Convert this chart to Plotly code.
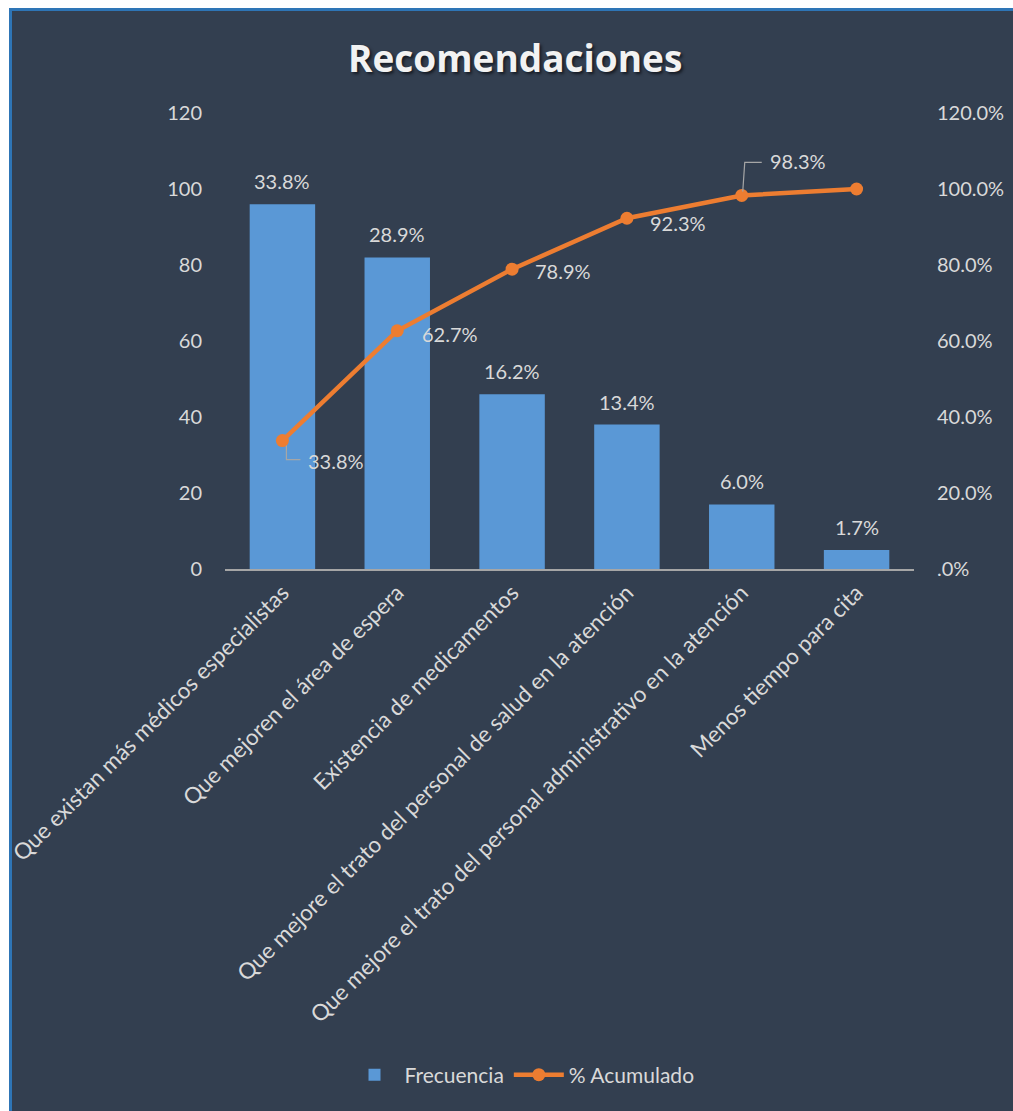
import plotly.graph_objects as go

# Pareto data: recommendations, frequency and cumulative share
categories = [
    "Que existan más médicos especialistas",
    "Que mejoren el área de espera",
    "Existencia de medicamentos",
    "Que mejore el trato del personal de salud en la atención",
    "Que mejore el trato del personal administrativo en la atención",
    "Menos tiempo para cita",
]
frecuencia = [96, 82, 46, 38, 17, 5]
porcentaje = [33.8, 28.9, 16.2, 13.4, 6.0, 1.7]          # share of each bar (%)
acumulado = [33.8, 62.7, 78.9, 92.3, 98.3, 100.0]        # cumulative share (%)

left_ticks = [0, 20, 40, 60, 80, 100, 120]
right_ticks = [0, 20, 40, 60, 80, 100, 120]
right_tick_text = [".0%", "20.0%", "40.0%", "60.0%", "80.0%", "100.0%", "120.0%"]

W, H = 1013, 1111
M_L, M_R, M_T, M_B = 225, 99, 113, 542
PW, PH = W - M_L - M_R, H - M_T - M_B

BG = "#333F50"
BORDER = "#2E75B6"
TXT = "#D9D9D9"
BAR = "#5A98D6"
LINE = "#ED7D31"
FONT = "Lato"


def px(x):
    return (x - M_L) / PW


def py(y):
    return (H - M_B - y) / PH


x_idx = list(range(len(categories)))
cum_frac = [v / 100 for v in acumulado]

fig = go.Figure()
fig.add_trace(go.Bar(
    x=x_idx, y=frecuencia, name="Frecuencia",
    marker=dict(color=BAR, line=dict(width=0)),
    width=0.57, yaxis="y",
))
fig.add_trace(go.Scatter(
    x=x_idx, y=cum_frac, name="% Acumulado", mode="lines+markers",
    line=dict(color=LINE, width=4.5), marker=dict(color=LINE, size=13),
    yaxis="y2", cliponaxis=False,
))

annotations = []
# share labels above each bar
for i, (f, p) in enumerate(zip(frecuencia, porcentaje)):
    annotations.append(dict(
        x=i, y=f, xref="x", yref="y", text=f"{p:.1f}%", showarrow=False,
        yanchor="bottom", yshift=9, font=dict(family=FONT, size=20, color=TXT),
    ))

# cumulative labels beside the line points (pixel offsets from each point)
label_offsets = [(54, -20), (53, -3), (51, -2), (51, -5), (56, 34)]
for i, (dx, dy) in enumerate(label_offsets):
    annotations.append(dict(
        x=i, y=cum_frac[i], xref="x", yref="y2", text=f"{acumulado[i]:.1f}%",
        showarrow=False, xshift=dx, yshift=dy,
        font=dict(family=FONT, size=20, color=TXT),
    ))

# chart title with a soft drop shadow
annotations.append(dict(
    x=px(515), y=py(58), xref="paper", yref="paper", text="<b>Recomendaciones</b>",
    showarrow=False, xanchor="center", yanchor="middle",
    font=dict(family="Open Sans", size=37, color="#F2F2F2",
              shadow="2px 2px 3px #161B24"),
))

shapes = [
    # dark panel with blue top/left border on a white page
    dict(type="rect", xref="paper", yref="paper", x0=px(9), x1=px(W + 5),
         y0=py(H + 5), y1=py(8), fillcolor=BG, line=dict(width=0), layer="below"),
    dict(type="line", xref="paper", yref="paper", x0=px(9), x1=px(W + 5),
         y0=py(9.5), y1=py(9.5), line=dict(color=BORDER, width=3), layer="below"),
    dict(type="line", xref="paper", yref="paper", x0=px(10.5), x1=px(10.5),
         y0=py(8), y1=py(H + 5), line=dict(color=BORDER, width=3), layer="below"),
]
# elbow leader lines for the first and fifth cumulative labels
leaders = [(0, "M 4,-5 L 4,-19 L 18,-19"), (4, "M 1,4 L 3,33 L 20,33")]
for i, path in leaders:
    shapes.append(dict(
        type="path", xref="x", yref="y2", xsizemode="pixel", ysizemode="pixel",
        xanchor=i, yanchor=cum_frac[i], path=path,
        line=dict(color="#A6A6A6", width=1.2),
    ))

fig.update_layout(
    width=W, height=H, autosize=False,
    margin=dict(l=M_L, r=M_R, t=M_T, b=M_B, pad=0),
    paper_bgcolor="white", plot_bgcolor="rgba(0,0,0,0)",
    font=dict(family=FONT, size=20, color=TXT),
    bargap=0.43, showlegend=True,
    xaxis=dict(
        tickmode="array", tickvals=x_idx, ticktext=categories, tickangle=-45,
        range=[-0.5, len(categories) - 0.5], showgrid=False, zeroline=False,
        showline=True, linecolor="#A6A6A6", linewidth=1.5, ticks="",
        tickfont=dict(family=FONT, size=22.5, color=TXT), automargin=False,
    ),
    yaxis=dict(
        range=[0, 120], tickvals=left_ticks, showgrid=False, zeroline=False,
        showline=False, ticks="", ticklabelstandoff=22, automargin=False,
        tickfont=dict(family=FONT, size=20, color=TXT),
    ),
    yaxis2=dict(
        range=[0, 1.2], overlaying="y", side="right", tickvals=[t / 100 for t in right_ticks],
        ticktext=right_tick_text, showgrid=False, zeroline=False, showline=False,
        ticks="", ticklabelstandoff=22, automargin=False,
        tickfont=dict(family=FONT, size=20, color=TXT),
    ),
    legend=dict(
        orientation="h", x=px(522), y=py(1075), xanchor="center", yanchor="middle",
        font=dict(family=FONT, size=21, color=TXT), bgcolor="rgba(0,0,0,0)",
        itemwidth=50,
    ),
    annotations=annotations, shapes=shapes,
)

fig.write_html("out.html")
